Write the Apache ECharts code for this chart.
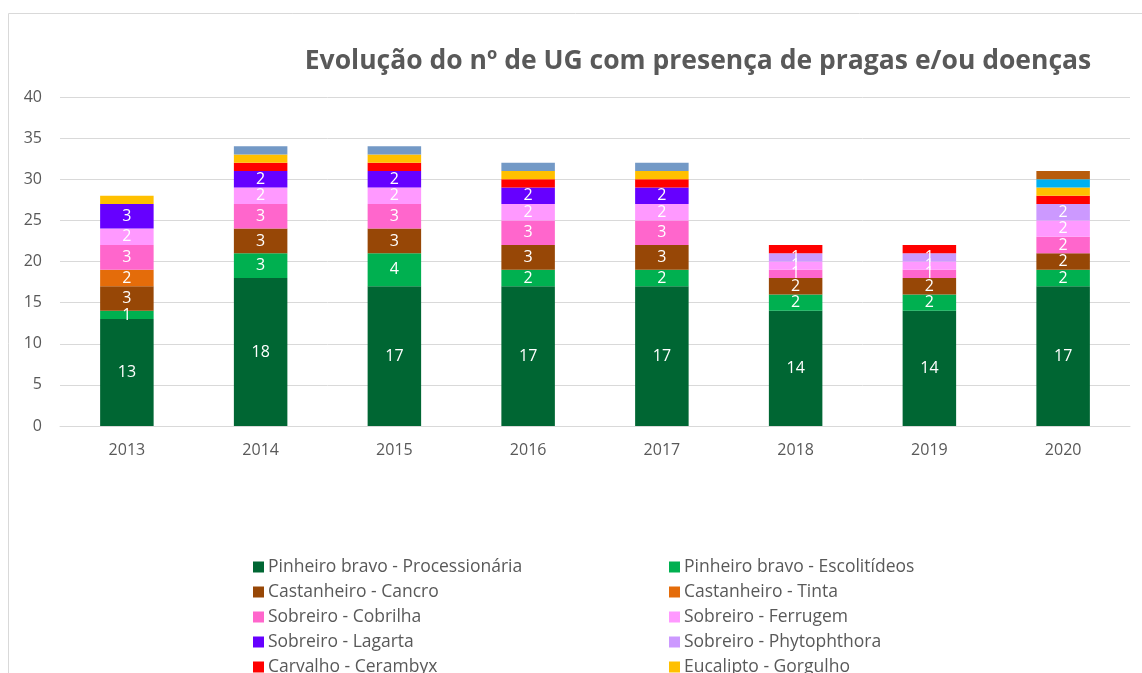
<!DOCTYPE html>
<html>
<head>
<meta charset="utf-8">
<script src="https://cdn.jsdelivr.net/npm/echarts@6/dist/echarts.min.js"></script>
<style>
  html, body { margin: 0; padding: 0; background: #fff; }
  #chart { width: 1142px; height: 673px; }
</style>
</head>
<body>
<div id="chart"></div>
<script>
// anos (categorias)
const anos = ['2013', '2014', '2015', '2016', '2017', '2018', '2019', '2020'];

// valores por praga/doença, de baixo para cima na coluna
const processionaria = [13, 18, 17, 17, 17, 14, 14, 17];
const escolitideos   = [1, 3, 4, 2, 2, 2, 2, 2];
const cancro         = [3, 3, 3, 3, 3, 2, 2, 2];
const tinta          = [2, 0, 0, 0, 0, 0, 0, 0];
const cobrilha       = [3, 3, 3, 3, 3, 1, 1, 2];
const ferrugem       = [2, 2, 2, 2, 2, 1, 1, 2];
const lagarta        = [3, 2, 2, 2, 2, 0, 0, 0];
const phytophthora   = [0, 0, 0, 0, 0, 1, 1, 2];
const cerambyx       = [0, 1, 1, 1, 1, 1, 1, 1];
const gorgulho       = [1, 1, 1, 1, 1, 0, 0, 1];
const outraA         = [0, 1, 1, 1, 1, 0, 0, 0];
const outraB         = [0, 0, 0, 0, 0, 0, 0, 1];
const outraC         = [0, 0, 0, 0, 0, 0, 0, 1];

const yTicks = [0, 5, 10, 15, 20, 25, 30, 35, 40];

const series = [
  { name: 'Pinheiro bravo - Processionária', data: processionaria, color: '#006633', label: true },
  { name: 'Pinheiro bravo - Escolitídeos', data: escolitideos, color: '#00b050', label: true },
  { name: 'Castanheiro - Cancro', data: cancro, color: '#974706', label: true },
  { name: 'Castanheiro - Tinta', data: tinta, color: '#e46c0a', label: true },
  { name: 'Sobreiro - Cobrilha', data: cobrilha, color: '#ff66cc', label: true },
  { name: 'Sobreiro - Ferrugem', data: ferrugem, color: '#ff99ff', label: true },
  { name: 'Sobreiro - Lagarta', data: lagarta, color: '#6600ff', label: true },
  { name: 'Sobreiro - Phytophthora', data: phytophthora, color: '#cc99ff', label: true },
  { name: 'Carvalho - Cerambyx', data: cerambyx, color: '#ff0000', label: false },
  { name: 'Eucalipto - Gorgulho', data: gorgulho, color: '#ffc000', label: false },
  { name: 'Carvalho - Outras', data: outraA, color: '#7399c6', label: false },
  { name: 'Eucalipto - Outras', data: outraB, color: '#00b0f0', label: false },
  { name: 'Castanheiro - Outras', data: outraC, color: '#b85c0c', label: false }
];

const fontFam = '"Open Sans", "Liberation Sans", sans-serif';

let chart = echarts.init(document.getElementById('chart'));
chart.setOption({
  animation: false,
  textStyle: { fontFamily: fontFam },
  title: {
    text: 'Evolução do nº de UG com presença de pragas e/ou doenças',
    left: 698,
    top: 48,
    padding: 0,
    textAlign: 'center',
    textStyle: { fontSize: 26.5, fontWeight: 'bold', color: '#595959', fontFamily: fontFam }
  },
  graphic: [{
    type: 'rect',
    shape: { x: 8.5, y: 13.5, width: 1160, height: 700 },
    style: { fill: 'none', stroke: '#d9d9d9', lineWidth: 1 },
    silent: true
  }],
  legend: {
    data: series.map(s => s.name),
    left: 253,
    top: 558,
    padding: 0,
    width: 860,
    itemWidth: 11,
    itemHeight: 11,
    itemGap: 7,
    icon: 'rect',
    textStyle: { fontSize: 17.5, color: '#595959', width: 394, lineHeight: 17, fontFamily: fontFam, padding: [0, 0, 0, -1] }
  },
  grid: { left: 60, right: 12, top: 97, bottom: 247, containLabel: false },
  xAxis: {
    type: 'category',
    data: anos,
    axisLine: { lineStyle: { color: '#d9d9d9' } },
    axisTick: { show: false },
    axisLabel: { color: '#595959', fontSize: 16, margin: 16 }
  },
  yAxis: {
    type: 'value',
    min: yTicks[0],
    max: yTicks[yTicks.length - 1],
    interval: 5,
    axisLine: { show: false },
    axisTick: { show: false },
    axisLabel: { color: '#595959', fontSize: 16, margin: 18 },
    splitLine: { lineStyle: { color: '#d9d9d9' } }
  },
  series: series.map(s => ({
    name: s.name,
    type: 'bar',
    stack: 'total',
    barWidth: '40%',
    itemStyle: { color: s.color },
    label: {
      show: s.label,
      position: 'inside',
      color: '#ffffff',
      fontSize: 16,
      formatter: p => (p.value ? String(p.value) : '')
    },
    data: s.data
  }))
});
</script>
</body>
</html>
